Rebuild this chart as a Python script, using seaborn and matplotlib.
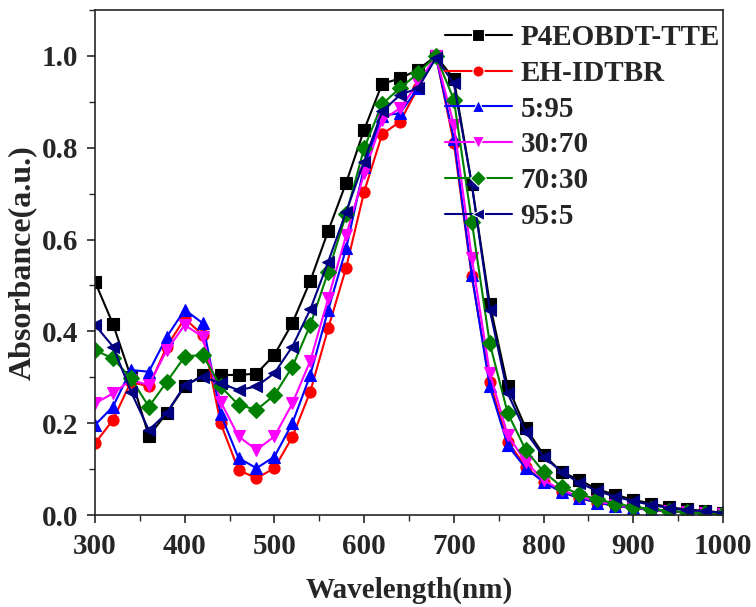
import numpy as np
import pandas as pd
import matplotlib
matplotlib.use("Agg")
import matplotlib.pyplot as plt
import seaborn as sns
from matplotlib.ticker import MultipleLocator, FormatStrFormatter

wavelength = list(range(300, 1001, 20))

p4eobdt_tte = [0.508, 0.416, 0.301, 0.172, 0.222, 0.280, 0.305, 0.305, 0.305, 0.308, 0.349, 0.418,
               0.510, 0.619, 0.724, 0.839, 0.939, 0.951, 0.970, 1.000, 0.950, 0.720, 0.460, 0.280,
               0.190, 0.131, 0.094, 0.076, 0.056, 0.044, 0.033, 0.025, 0.017, 0.012, 0.009, 0.005]
eh_idtbr = [0.156, 0.207, 0.290, 0.280, 0.367, 0.428, 0.392, 0.200, 0.098, 0.080, 0.102, 0.170,
            0.269, 0.407, 0.539, 0.704, 0.829, 0.857, 0.930, 1.000, 0.810, 0.520, 0.290, 0.160,
            0.105, 0.072, 0.050, 0.037, 0.027, 0.020, 0.015, 0.011, 0.008, 0.006, 0.004, 0.003]
r5_95 = [0.196, 0.236, 0.316, 0.312, 0.388, 0.447, 0.418, 0.220, 0.124, 0.102, 0.127, 0.200,
         0.305, 0.447, 0.581, 0.759, 0.870, 0.875, 0.930, 1.000, 0.820, 0.523, 0.280, 0.152,
         0.102, 0.072, 0.050, 0.037, 0.027, 0.020, 0.015, 0.011, 0.008, 0.006, 0.004, 0.003]
r30_70 = [0.243, 0.265, 0.294, 0.283, 0.359, 0.414, 0.388, 0.247, 0.171, 0.142, 0.171, 0.243,
          0.336, 0.472, 0.610, 0.744, 0.860, 0.886, 0.940, 1.000, 0.850, 0.560, 0.309, 0.174,
          0.116, 0.076, 0.054, 0.040, 0.030, 0.022, 0.016, 0.012, 0.008, 0.006, 0.004, 0.003]
r70_30 = [0.359, 0.341, 0.298, 0.236, 0.290, 0.345, 0.349, 0.280, 0.240, 0.229, 0.261, 0.323,
          0.414, 0.530, 0.655, 0.799, 0.895, 0.930, 0.962, 1.000, 0.905, 0.639, 0.374, 0.222,
          0.142, 0.094, 0.062, 0.045, 0.034, 0.025, 0.018, 0.013, 0.009, 0.006, 0.004, 0.003]
r95_5 = [0.414, 0.367, 0.269, 0.185, 0.222, 0.283, 0.301, 0.287, 0.272, 0.280, 0.309, 0.367,
         0.448, 0.552, 0.661, 0.770, 0.879, 0.915, 0.930, 0.995, 0.940, 0.720, 0.447, 0.265,
         0.181, 0.127, 0.094, 0.070, 0.052, 0.040, 0.030, 0.022, 0.015, 0.011, 0.008, 0.005]

series_names = ["P4EOBDT-TTE", "EH-IDTBR", "5:95", "30:70", "70:30", "95:5"]
series_values = [p4eobdt_tte, eh_idtbr, r5_95, r30_70, r70_30, r95_5]
colors = ["#000000", "#FF0000", "#0000FF", "#FF00FF", "#008000", "#000080"]
markers = ["s", "o", "^", "v", "D", "<"]

df = pd.concat([pd.DataFrame({"Wavelength": wavelength, "Absorbance": v, "Sample": n})
                for n, v in zip(series_names, series_values)], ignore_index=True)

sns.set_style("ticks")
plt.rcParams["font.family"] = ["Liberation Serif", "DejaVu Serif"]
plt.rcParams["font.weight"] = "bold"

fig = plt.figure(figsize=(7.56, 6.07), dpi=100)
ax = fig.add_axes([95 / 756, (607 - 515) / 607, (723 - 95) / 756, (515 - 10) / 607])

sns.lineplot(data=df, x="Wavelength", y="Absorbance", hue="Sample", style="Sample",
             hue_order=series_names, style_order=series_names,
             palette=dict(zip(series_names, colors)),
             markers=dict(zip(series_names, markers)), dashes=False,
             markersize=8, linewidth=1.5, markeredgewidth=0.8, ax=ax)
for line, c in zip(ax.lines, colors):
    line.set_markeredgecolor(c)

ax.set_xlim(300, 1000)
ax.set_ylim(0, 1.1)
ax.xaxis.set_major_locator(MultipleLocator(100))
ax.xaxis.set_minor_locator(MultipleLocator(50))
ax.yaxis.set_major_locator(MultipleLocator(0.2))
ax.yaxis.set_minor_locator(MultipleLocator(0.1))
ax.yaxis.set_major_formatter(FormatStrFormatter("%.1f"))
ax.tick_params(which="major", direction="out", length=6, width=1.2, labelsize=21)
ax.tick_params(axis="x", which="major", pad=7)
ax.tick_params(axis="y", which="major", pad=6)
ax.tick_params(which="minor", direction="out", length=4, width=1.0)
ax.tick_params(top=False, right=False, which="both")
for lab in ax.get_xticklabels() + ax.get_yticklabels():
    lab.set_fontweight("bold")
for s in ax.spines.values():
    s.set_linewidth(1.2)

ax.set_xlabel("Wavelength(nm)", fontsize=21, fontweight="bold", labelpad=12)
ax.set_ylabel("Absorbance(a.u.)", fontsize=23, fontweight="bold")
ax.yaxis.set_label_coords(-0.092, 0.5)

handles, labels = ax.get_legend_handles_labels()
leg = ax.legend(handles, labels, loc="upper right", frameon=False,
                handlelength=2.3, handletextpad=0.3, labelspacing=0.3,
                borderaxespad=0.0, borderpad=0.1,
                bbox_to_anchor=(1.0, 0.978), prop={"weight": "bold", "size": 21})

fig.savefig("out.png", dpi=100)
